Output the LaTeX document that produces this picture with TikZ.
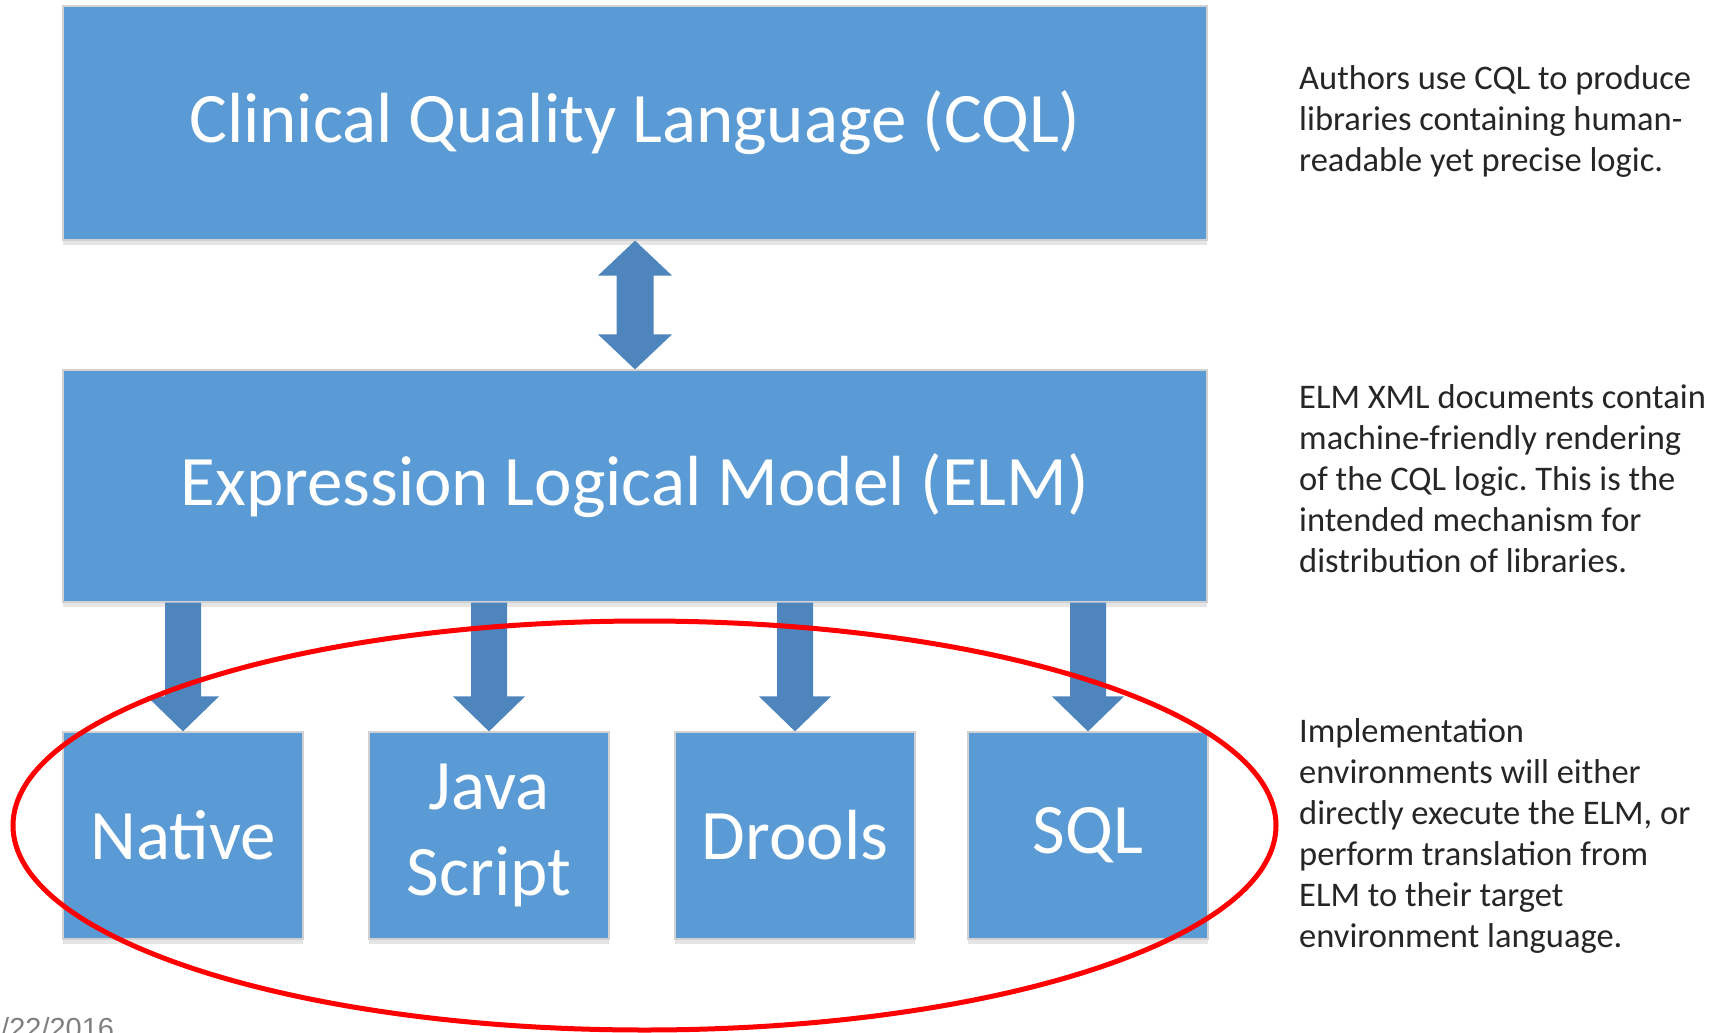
\documentclass[tikz,border=0pt]{standalone}
\usepackage{fontspec}
\setmainfont{Carlito}
\newfontfamily\datefont{Liberation Sans}
\usetikzlibrary{shadows}

\definecolor{boxBlue}{HTML}{5B9BD5}
\definecolor{arrowBlue}{HTML}{4E85BD}
\definecolor{ringRed}{HTML}{FF0000}
\definecolor{noteGray}{HTML}{262626}

\tikzset{
  layerbox/.style={rectangle,fill=boxBlue,draw=black!18,line width=1.2pt,
    inner sep=0pt,text=white,align=center,
    font=\fontsize{71}{86}\selectfont,
    drop shadow={shadow xshift=0pt,shadow yshift=-5pt,opacity=.10,fill=black}},
  blockarrow/.style={fill=arrowBlue},
  note/.style={anchor=base west,align=left,text=noteGray,inner sep=0pt,
    font=\fontsize{34.5}{41}\selectfont},
}

\begin{document}
\frenchspacing
\begin{tikzpicture}[x=1pt,y=-1pt]
  \useasboundingbox (0,0) rectangle (1732,1033);
  \clip (0,0) rectangle (1732,1033);

  % layers
  \node[layerbox,minimum width=1144pt,minimum height=234pt] (cql) at (635,123)
    {Clinical Quality Language (CQL)};
  \node[layerbox,minimum width=1144pt,minimum height=232pt] (elm) at (635,486)
    {Expression Logical Model (ELM)};
  \foreach \name/\x/\lab in {native/183/Native,java/489/{Java\\Script},
                             drools/795/Drools,sql/1088/SQL} {
    \node[layerbox,minimum width=240pt,minimum height=207pt] (\name) at (\x,835.5)
      {\lab};
  }

  % CQL <-> ELM
  \fill[blockarrow] (cql.south) -- ++(37,35) -- ++(-18.5,0)
    -- ([xshift=18.5pt,yshift=35pt]elm.north) -- ++(18.5,0) -- (elm.north)
    -- ++(-37,-35) -- ++(18.5,0) -- ([xshift=-18.5pt,yshift=-35pt]cql.south)
    -- ++(-18.5,0) -- cycle;

  % ELM -> environments
  \foreach \name in {native,java,drools,sql} {
    \fill[blockarrow] ([xshift=-18pt]\name.north |- elm.south)
      -- ([xshift=18pt]\name.north |- elm.south)
      -- ([xshift=18pt,yshift=35pt]\name.north) -- ++(18,0) -- (\name.north)
      -- ([xshift=-36pt,yshift=35pt]\name.north) -- ++(18,0) -- cycle;
  }

  \draw[ringRed,line width=5pt] (644.5,825.5) ellipse [x radius=631.5pt,y radius=204.5pt];

  % notes (base = last line)
  \node[note] (cqlnote) at (1299,171)
    {Authors use CQL to produce\\libraries containing human-\\readable yet precise logic.};
  \node[note] (elmnote) at (1299,572)
    {ELM XML documents contain\\machine-friendly rendering\\of the CQL logic.  This is the\\intended mechanism for\\distribution of libraries.};
  \node[note] (envnote) at (1299,947)
    {Implementation\\environments will either\\directly execute the ELM, or\\perform translation from\\ELM to their target\\environment language.};

  \node[anchor=base west,inner sep=0pt,text=black!50,font=\datefont\fontsize{29}{30}\selectfont]
    (date) at (1,1038) {/22/2016};
\end{tikzpicture}
\end{document}
